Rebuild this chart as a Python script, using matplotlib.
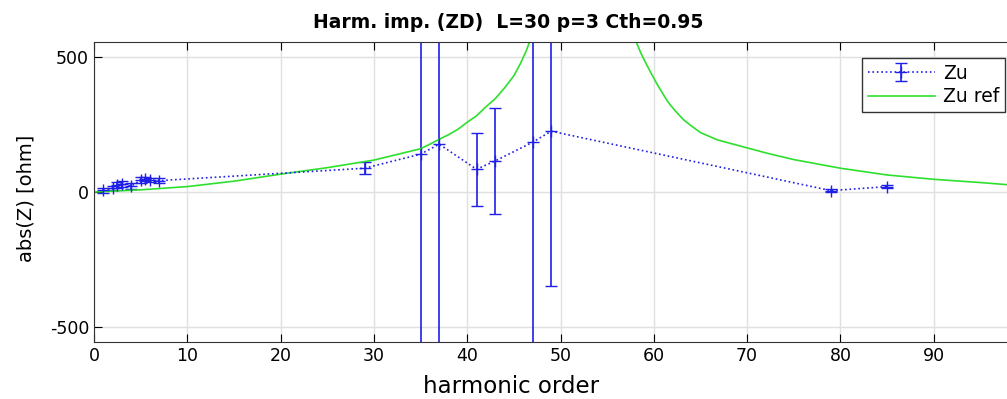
import numpy as np
import matplotlib
matplotlib.use("Agg")
import matplotlib.pyplot as plt

plt.rcParams['font.family'] = ['DejaVu Sans']
plt.rcParams['axes.unicode_minus'] = False

# measured harmonic impedance (Zu) with confidence intervals
zu_h = [1, 2, 2.5, 3, 4, 5, 5.5, 6, 7, 29, 35, 37, 41, 43, 47, 49, 79, 85]
zu_z = [6, 16, 26, 30, 22, 44, 47, 44, 42, 88, 140, 177, 84, 115, 184, 225, 5, 20]
zu_err = [8, 8, 10, 10, 10, 10, 8, 8, 8, 23, 900, 900, 134, 196, 900, 573, 6, 6]

# reference impedance (Zu ref); nan = break at resonance
ref_h = [0, 5, 10, 15, 20, 25, 30, 35, 36, 37, 38, 39, 40, 41, 42, 43, 44, 45,
         45.7, 46.3, 46.7, 47.0,
         52,
         57.8, 58.1, 58.6, 59.1, 59.7, 60.5, 61.5, 62.3, 63.2, 64, 65, 66.8,
         69.7, 72.2, 75, 80, 85, 90, 95, 99]
ref_z = [0, 8, 20, 40, 66, 90, 118, 160, 177, 195, 212, 232, 258, 282, 315, 345,
         385, 430, 475, 520, 557, 590,
         np.nan,
         590, 557, 515, 480, 440, 390, 334, 300, 267, 245, 220, 193,
         166, 143, 120, 88, 63, 47, 35, 24]

fig = plt.figure(figsize=(10.07, 3.99), dpi=100)
ax = fig.add_axes([94 / 1007, 1 - 342 / 399, 933 / 1007, 300 / 399])

eb = ax.errorbar(zu_h, zu_z, yerr=zu_err, color='#1f1fe6', linestyle=':',
                 linewidth=1.2, marker='+', markersize=9, capsize=4.5,
                 elinewidth=1.2, label='Zu')
ln, = ax.plot(ref_h, ref_z, color='#2ee02e', linewidth=1.2, label='Zu ref')

ax.set_xlim(0, 100)
ax.set_ylim(-555, 555)
ax.set_xticks(range(0, 100, 10))
ax.set_yticks([-500, 0, 500])
ax.grid(True, color='#e0e0e0', linewidth=1)
ax.set_axisbelow(True)
ax.tick_params(direction='in', labelsize=12.5, length=6, top=True, right=True)
for s in ax.spines.values():
    s.set_color('#333333')

# title and xlabel are centred left of the (cropped) axes centre
fig.text(508 / 1007, 1 - 22 / 399, 'Harm. imp. (ZD)  L=30 p=3 Cth=0.95',
         fontsize=13.5, fontweight='bold', ha='center', va='center')
ax.set_xlabel('harmonic order', fontsize=16.5)
ax.xaxis.set_label_coords((511 - 94) / 933, -0.11)
ax.set_ylabel('abs(Z) [ohm]', fontsize=14)
ax.yaxis.set_label_coords(-0.063, 0.48)

leg = ax.legend([eb, ln], ['Zu', 'Zu ref'], loc='upper left',
                bbox_to_anchor=(862 / 1007, 1 - 58 / 399),
                bbox_transform=fig.transFigure, fontsize=13.5, fancybox=False,
                edgecolor='#333333', framealpha=1, handlelength=3.6,
                borderpad=0.3, labelspacing=0.25, handletextpad=0.4,
                borderaxespad=0)
leg.get_frame().set_linewidth(1)

fig.savefig('out.png', dpi=100)
